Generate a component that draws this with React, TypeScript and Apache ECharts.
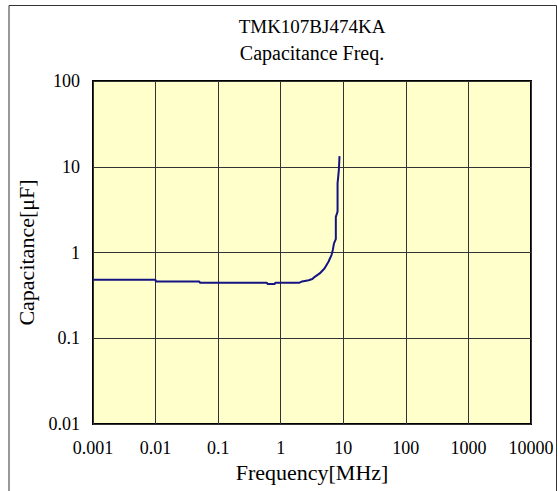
import React, { useEffect, useRef } from "react";
import * as echarts from "echarts";

const title1 = "TMK107BJ474KA";
const title2 = "Capacitance Freq.";
const xName = "Frequency[MHz]";
const yName = "Capacitance[μF]";

const xTickLabels = ["0.001", "0.01", "0.1", "1", "10", "100", "1000", "10000"];
const yTickLabels = ["0.01", "0.1", "1", "10", "100"];

// frequency [MHz]
const freq = [
  0.001, 0.01, 0.0101, 0.05, 0.051, 0.6, 0.62, 0.8, 0.82, 2.0, 2.2, 2.8, 3.2, 3.5,
  4.2, 5.0, 5.8, 6.5, 6.8, 7.1, 7.6, 7.6, 8.1, 8.1, 8.5, 8.7,
];
// capacitance [uF]
const cap = [
  0.48, 0.48, 0.46, 0.46, 0.445, 0.445, 0.428, 0.428, 0.445, 0.445, 0.46, 0.475, 0.49, 0.52,
  0.57, 0.65, 0.78, 0.94, 1.07, 1.28, 1.43, 2.6, 3.0, 6.4, 9.2, 13.3,
];

const FONT = "'Liberation Serif', 'Times New Roman', serif";

export default function App() {
  const ref = useRef<HTMLDivElement>(null);
  useEffect(() => {
    if (!ref.current) return;
    const chart = echarts.init(ref.current, undefined, { renderer: "svg" });
    const gridLeft = 93, gridTop = 81, gridW = 438, gridH = 343;
    const cx = gridLeft + gridW / 2;
    chart.setOption({
      animation: false,
      backgroundColor: "#ffffff",
      textStyle: { fontFamily: FONT },
      grid: {
        left: gridLeft,
        top: gridTop,
        width: gridW,
        height: gridH,
        show: true,
        backgroundColor: "#FFFFCC",
        borderColor: "#000000",
        borderWidth: 2,
        containLabel: false,
      },
      graphic: [
        {
          type: "rect",
          shape: { x: 9, y: 5.5, width: 547.5, height: 520 },
          style: { fill: "none", stroke: "#333333", lineWidth: 1 },
          silent: true,
          z: 0,
        },
        {
          type: "text",
          x: cx,
          y: 26,
          style: {
            text: title1,
            fontFamily: FONT,
            fontSize: 19,
            fill: "#000",
            align: "center",
            verticalAlign: "middle",
          },
        },
        {
          type: "text",
          x: cx,
          y: 53,
          style: {
            text: title2,
            fontFamily: FONT,
            fontSize: 20,
            fill: "#000",
            align: "center",
            verticalAlign: "middle",
          },
        },
      ],
      xAxis: {
        type: "log",
        logBase: 10,
        min: 0.001,
        max: 10000,
        name: xName,
        nameLocation: "middle",
        nameGap: 34,
        nameTextStyle: { fontFamily: FONT, fontSize: 22, color: "#000" },
        axisLine: { show: false },
        axisTick: { show: false },
        axisLabel: {
          fontFamily: FONT,
          fontSize: 18,
          color: "#000",
          margin: 15,
          showMinLabel: true,
          showMaxLabel: true,
          formatter: (v: number) => {
            const i = Math.round(Math.log10(v)) + 3;
            return xTickLabels[i] ?? "";
          },
        },
        splitLine: { show: true, lineStyle: { color: "#333333", width: 1 } },
      },
      yAxis: {
        type: "log",
        logBase: 10,
        min: 0.01,
        max: 100,
        name: yName,
        nameLocation: "middle",
        nameGap: 43,
        nameRotate: 90,
        nameTextStyle: { fontFamily: FONT, fontSize: 22, color: "#000" },
        axisLine: { show: false },
        axisTick: { show: false },
        axisLabel: {
          fontFamily: FONT,
          fontSize: 18,
          color: "#000",
          margin: 13,
          showMinLabel: true,
          showMaxLabel: true,
          formatter: (v: number) => {
            const i = Math.round(Math.log10(v)) + 2;
            return yTickLabels[i] ?? "";
          },
        },
        splitLine: { show: true, lineStyle: { color: "#333333", width: 1 } },
      },
      series: [
        {
          type: "line",
          data: freq.map((f, i) => [f, cap[i]]),
          showSymbol: false,
          symbol: "none",
          lineStyle: { color: "#141482", width: 2 },
          z: 5,
        },
      ],
    });
    return () => chart.dispose();
  }, []);
  return (
    <div
      ref={ref}
      style={{ position: "absolute", left: 0, top: 0, width: 558, height: 491 }}
    />
  );
}
